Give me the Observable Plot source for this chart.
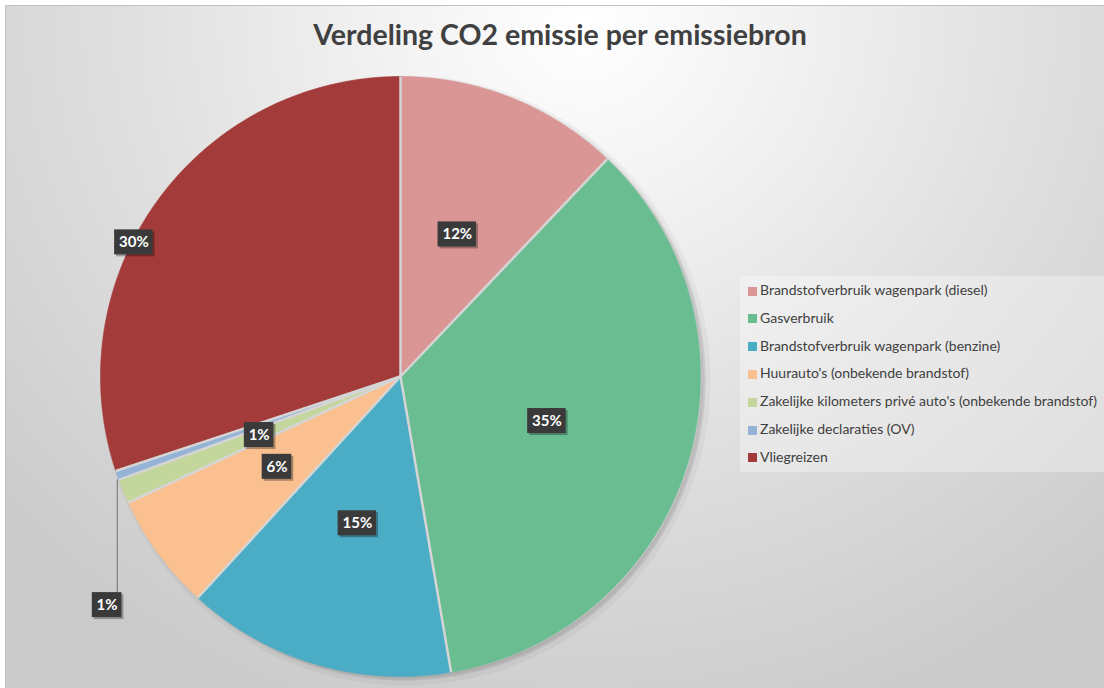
<!DOCTYPE html>
<html>
<head>
<meta charset="utf-8">
<script src="https://cdn.jsdelivr.net/npm/d3@7"></script>
<script src="https://cdn.jsdelivr.net/npm/@observablehq/plot@0.6"></script>
<style>
  html, body { margin: 0; padding: 0; background: #ffffff; width: 1104px; height: 688px; overflow: hidden; }
  #frame {
    position: absolute; left: 5px; top: 5px; width: 1110px; height: 700px;
    border-left: 1px solid #c2c2c2; border-top: 1px solid #c2c2c2;
    background: radial-gradient(ellipse 70% 105% at 52% 2%, #ffffff 0%, #f4f4f4 22%, #e0e0e0 58%, #cbcbcb 100%);
  }
  #title {
    position: absolute; left: 0; top: 17px; width: 1120px; text-align: center;
    font-family: Lato, "Open Sans", sans-serif; font-weight: bold; font-size: 28.5px; color: #404040;
  }
  #chart { position: absolute; left: 0; top: 68px; }
  #legend {
    position: absolute; left: 740px; top: 276px; width: 370px; height: 196px;
    background: rgba(255,255,255,0.32);
    font-family: Lato, "Open Sans", sans-serif; font-size: 14px; color: #404040;
  }
  .item { position: absolute; left: 8px; height: 20px; line-height: 20px; white-space: nowrap; }
  .sw { display: inline-block; width: 9px; height: 9px; margin-right: 3px; vertical-align: -0.5px; }
</style>
</head>
<body>
<div id="frame"></div>
<div id="title">Verdeling CO2 emissie per emissiebron</div>
<div id="chart"></div>
<div id="legend"></div>
<script>
// ---- data ----
const names = [
  "Brandstofverbruik wagenpark (diesel)",
  "Gasverbruik",
  "Brandstofverbruik wagenpark (benzine)",
  "Huurauto's (onbekende brandstof)",
  "Zakelijke kilometers privé auto's (onbekende brandstof)",
  "Zakelijke declaraties (OV)",
  "Vliegreizen"
];
const values = [12.1, 35.2, 14.5, 6.3, 1.3, 0.5, 30.1];
const labels = ["12%", "35%", "15%", "6%", "1%", "1%", "30%"];
const colors = ["#d99694", "#6abd91", "#4bacc6", "#fac090", "#c3d69b", "#95b3d7", "#a23b39"];

// ---- label layout (Excel best-fit placement) ----
const placement = {
  "Vliegreizen": {angle: 296.7, r: 0.995},
  "Zakelijke declaraties (OV)": {u: -0.978, v: -0.762, leader: true}
};

// ---- geometry from d3.pie ----
const arcs = d3.pie().sort(null).value(d => d)(values);
const slicePts = arcs.flatMap((a, i) => {
  const n = Math.max(2, Math.ceil((a.endAngle - a.startAngle) / 0.004));
  const pts = [{name: names[i], u: 0, v: 0}];
  for (let k = 0; k <= n; k++) {
    const t = a.startAngle + (a.endAngle - a.startAngle) * k / n;
    pts.push({name: names[i], u: Math.sin(t), v: Math.cos(t)});
  }
  pts.push({name: names[i], u: 0, v: 0});
  return pts;
});
const separators = arcs.map(a => ({u: Math.sin(a.startAngle), v: Math.cos(a.startAngle)}));
const rim = d3.range(0, 361, 1).map(deg => ({u: Math.sin(deg * Math.PI / 180), v: Math.cos(deg * Math.PI / 180)}));

const PX = 300; // pixels per unit (pie radius)
const boxH = 25 / PX;
const labelData = arcs.map((a, i) => {
  const mid = (a.startAngle + a.endAngle) / 2;
  const pl = placement[names[i]] || {};
  const ang = pl.angle != null ? pl.angle * Math.PI / 180 : mid;
  const r = pl.r != null ? pl.r : 0.51;
  const u = pl.u != null ? pl.u : r * Math.sin(ang);
  const v = pl.v != null ? pl.v : r * Math.cos(ang);
  const w = (12 + 8.8 * labels[i].length) / PX;
  return {label: labels[i], u, v, x1: u - w / 2, x2: u + w / 2, y1: v - boxH / 2, y2: v + boxH / 2,
          leader: !!pl.leader, lu: Math.sin(mid), lv: Math.cos(mid)};
});
const leaders = labelData.filter(d => d.leader).map(d => ({x: d.lu, y1: d.lv - 0.015, y2: d.y2}));

const W = 730, H = 620;
const cx = 400, cy = 308;
const chart = Plot.plot({
  width: W, height: H,
  margin: 0,
  x: {domain: [-cx / PX, (W - cx) / PX], axis: null},
  y: {domain: [(cy - H) / PX, cy / PX], axis: null},
  color: {domain: names, range: colors},
  style: {background: "transparent"},
  marks: [
    // soft shadow of the pie
    Plot.line(rim, {x: "u", y: "v", dx: 5, dy: 4, fill: "#000", fillOpacity: 0.04, stroke: "#000", strokeOpacity: 0.035, strokeWidth: 10}),
    Plot.line(rim, {x: "u", y: "v", dx: 3, dy: 2, fill: "#000", fillOpacity: 0.05, stroke: "#000", strokeOpacity: 0.05, strokeWidth: 4}),
    // slices
    Plot.line(slicePts, {x: "u", y: "v", z: "name", fill: "name", stroke: "name", strokeWidth: 0.6, strokeLinejoin: "round"}),
    // slice separators
    Plot.link(separators, {x1: 0, y1: 0, x2: "u", y2: "v", stroke: "#d5d5d5", strokeWidth: 2.5}),
    Plot.ruleX(leaders, {x: "x", y1: "y1", y2: "y2", stroke: "#7f7f7f", strokeWidth: 1.2}),
    Plot.rect(labelData, {x1: "x1", x2: "x2", y1: "y1", y2: "y2", dx: 2, dy: 2, fill: "#000", fillOpacity: 0.3}),
    Plot.rect(labelData, {x1: "x1", x2: "x2", y1: "y1", y2: "y2", fill: "#3a3a3a"}),
    Plot.text(labelData, {x: "u", y: "v", text: "label", fill: "white", fontSize: 15, fontWeight: "bold", fontFamily: "Lato, 'Open Sans', sans-serif"})
  ]
});
document.getElementById("chart").appendChild(chart);

// ---- legend ----
const legend = d3.select("#legend");
names.forEach((n, i) => {
  const it = legend.append("div").attr("class", "item").style("top", (4 + i * 27.8) + "px");
  it.append("span").attr("class", "sw").style("background", colors[i]);
  it.append("span").text(n);
});
</script>
</body>
</html>
